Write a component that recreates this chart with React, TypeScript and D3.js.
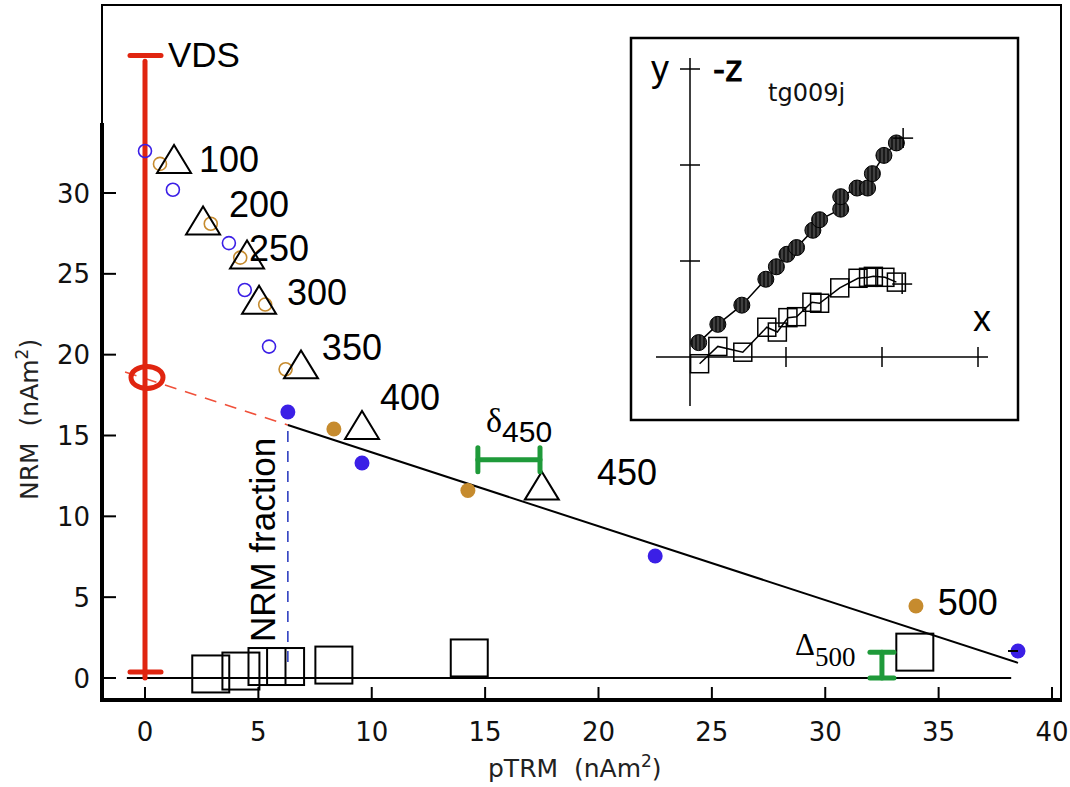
import React from "react";
import * as d3 from "d3";

// ---------- data ----------
const xTicks = [0, 5, 10, 15, 20, 25, 30, 35, 40];
const yTicks = [0, 5, 10, 15, 20, 25, 30];

// open circles: steps not used in the fit
const openBlue: [number, number][] = [
  [0, 32.6], [1.23, 30.2], [3.7, 26.9], [4.4, 24.0], [5.47, 20.5],
];
const openOrange: [number, number][] = [
  [0.66, 31.8], [2.9, 28.1], [4.2, 26.0], [5.3, 23.1], [6.2, 19.1],
];
// filled circles: steps used in the fit
const fitBlue: [number, number][] = [
  [6.3, 16.45], [9.57, 13.3], [22.5, 7.55], [38.5, 1.67],
];
const fitOrange: [number, number][] = [
  [8.33, 15.4], [14.24, 11.6], [34.0, 4.45],
];
// pTRM checks (triangles)
const checks: [number, number][] = [
  [1.28, 32.1], [2.56, 28.3], [4.5, 26.2], [5.03, 23.4], [6.88, 19.4], [9.57, 15.65], [17.5, 11.9],
];
// pTRM tail checks (squares)
const tailChecks: [number, number][] = [
  [2.9, 0.25], [4.23, 0.43], [5.38, 0.71], [6.2, 0.71], [8.33, 0.8], [14.3, 1.24], [33.95, 1.6],
];
// temperature labels: [text, x, y]
const stepLabels: [string, number, number][] = [
  ["100", 2.38, 31.29], ["200", 3.7, 28.51], ["250", 4.59, 25.79], ["300", 6.26, 23.07],
  ["350", 7.8, 19.67], ["400", 10.36, 16.57], ["450", 19.93, 11.93], ["500", 34.96, 3.89],
];
// best-fit line
const fitIntercept = 18.53;
const fitSlope = -0.457;
const fitStart = 6.3;
const fitEnd = 38.5;
const dashStart = -0.88;
const vds = 38.5;
const baseLine = [-0.8, 38.2];
const delta450 = { x0: 14.68, x1: 17.42, y: 13.5 };
const Delta500 = { x: 32.5, y0: 0, y1: 1.6 };

// inset Zijderveld data (tick units)
const zijH: [number, number][] = [
  [0.09, 0.15], [0.29, 0.34], [0.54, 0.54], [0.79, 0.81], [0.9, 0.94], [1.01, 1.07],
  [1.11, 1.14], [1.28, 1.32], [1.35, 1.43], [1.57, 1.54], [1.57, 1.67], [1.74, 1.76],
  [1.85, 1.76], [1.9, 1.91], [2.02, 2.1], [2.15, 2.23],
];
const zijV: [number, number][] = [
  [0.1, -0.07], [0.29, 0.11], [0.55, 0.05], [0.8, 0.31], [0.91, 0.26], [1.02, 0.41],
  [1.11, 0.42], [1.27, 0.57], [1.35, 0.56], [1.56, 0.72], [1.75, 0.82], [1.86, 0.83],
  [1.91, 0.84], [2.03, 0.83], [2.15, 0.78],
];
const zijEndH: [number, number] = [2.22, 2.28];
const zijEndV: [number, number] = [2.21, 0.76];
const insetTicks = [1, 2, 3];

// ---------- styles ----------
const BLUE = "#3b1fe6";
const ORANGE = "#c68b2e";
const RED = "#e02510";
const GREEN = "#1f9a3a";
const SANS = "DejaVu Sans, sans-serif";
const LAB = "Liberation Sans, Arial, sans-serif";
const SERIF = "Liberation Serif, Times New Roman, serif";

export default function App() {
  const x = d3.scaleLinear().domain([0, 40]).range([145, 1052]);
  const y = d3.scaleLinear().domain([0, 30]).range([678, 193]);
  const xi = d3.scaleLinear().domain([0, 3]).range([690, 978]);
  const yi = d3.scaleLinear().domain([0, 3]).range([357, 69]);

  const fy = (v: number) => fitIntercept + fitSlope * v;
  const lineI = d3.line<[number, number]>().x((d) => xi(d[0])).y((d) => yi(d[1]));

  const tri = (cx: number, cy: number) => {
    const w = 17, h = 14;
    return `M${cx - w},${cy + h}L${cx},${cy - h}L${cx + w},${cy + h}Z`;
  };

  return (
    <svg
      width={1070}
      height={787}
      style={{ position: "absolute", left: 0, top: 0, background: "#fff" }}
    >
      <defs>
        <pattern id="hatch" width="4" height="4" patternUnits="userSpaceOnUse">
          <rect width="4" height="4" fill="#1a1a1a" />
          <line x1="2" y1="0" x2="2" y2="4" stroke="#666" strokeWidth="1" />
        </pattern>
      </defs>

      {/* frame */}
      <rect x={102} y={5} width={959} height={695} fill="none" stroke="#000" strokeWidth={2} />
      <line x1={102} y1={123} x2={102} y2={701} stroke="#000" strokeWidth={4} />
      <line x1={100} y1={700} x2={1062} y2={700} stroke="#000" strokeWidth={4} />

      {/* ticks */}
      {xTicks.map((t) => (
        <g key={"xt" + t}>
          <line x1={x(t)} x2={x(t)} y1={700} y2={687} stroke="#000" strokeWidth={2} />
          <text x={x(t)} y={741} textAnchor="middle" fontFamily={SANS} fontSize={26} fill="#111">
            {t}
          </text>
        </g>
      ))}
      {yTicks.map((t) => (
        <g key={"yt" + t}>
          <line x1={102} x2={116} y1={y(t)} y2={y(t)} stroke="#000" strokeWidth={2} />
          <text x={90} y={y(t) + 9.5} textAnchor="end" fontFamily={SANS} fontSize={26} fill="#111">
            {t}
          </text>
        </g>
      ))}

      {/* axis titles */}
      <text x={488} y={777} fontFamily={SANS} fontSize={25} fill="#222" style={{ whiteSpace: "pre" }}>
        {"pTRM  (nAm"}
        <tspan fontSize={17} dy={-10}>2</tspan>
        <tspan dy={10}>)</tspan>
      </text>
      <text
        x={38}
        y={500}
        transform="rotate(-90,38,500)"
        fontFamily={SANS}
        fontSize={25}
        fill="#222"
        style={{ whiteSpace: "pre" }}
      >
        {"NRM  (nAm"}
        <tspan fontSize={17} dy={-10}>2</tspan>
        <tspan dy={10}>)</tspan>
      </text>

      {/* baseline y=0 */}
      <line x1={x(baseLine[0])} x2={x(baseLine[1])} y1={y(0)} y2={y(0)} stroke="#000" strokeWidth={2} />

      {/* dashed extrapolation */}
      <line
        x1={x(dashStart)} y1={y(fy(dashStart))} x2={x(fitStart)} y2={y(fy(fitStart))}
        stroke="#f0503a" strokeWidth={1.6} strokeDasharray="12,9"
      />
      {/* NRM fraction vertical */}
      <line
        x1={x(fitStart)} x2={x(fitStart)} y1={y(fy(fitStart)) + 6} y2={y(0.6)}
        stroke="#3040c0" strokeWidth={1.6} strokeDasharray="11,9"
      />
      {/* fit line */}
      <line
        x1={x(fitStart)} y1={y(fy(fitStart))} x2={x(fitEnd)} y2={y(fy(fitEnd))}
        stroke="#000" strokeWidth={2}
      />

      {/* VDS bar */}
      <line x1={x(0)} x2={x(0)} y1={y(0)} y2={y(vds - 0.35)} stroke={RED} strokeWidth={5} strokeLinecap="round" />
      <line x1={x(0) - 15} x2={x(0) + 16} y1={y(vds)} y2={y(vds)} stroke={RED} strokeWidth={5} strokeLinecap="round" />
      <line x1={x(0) - 15} x2={x(0) + 16} y1={y(0.37)} y2={y(0.37)} stroke={RED} strokeWidth={5} strokeLinecap="round" />
      <ellipse cx={x(0) + 2} cy={y(fitIntercept) - 1} rx={16} ry={11} fill="none" stroke={RED} strokeWidth={5} />
      <text x={168} y={67} fontFamily={LAB} fontSize={35} fill="#000">VDS</text>

      {/* tail check squares */}
      {tailChecks.map((d, i) => (
        <rect key={"sq" + i} x={x(d[0]) - 18.5} y={y(d[1]) - 18.5} width={37} height={37}
          fill="none" stroke="#000" strokeWidth={2} />
      ))}

      {/* NRM fraction label */}
      <text x={275} y={540} transform="rotate(-90,275,540)" textAnchor="middle"
        fontFamily={LAB} fontSize={35} fill="#000">NRM fraction</text>

      {/* open circles */}
      {openBlue.map((d, i) => (
        <circle key={"ob" + i} cx={x(d[0])} cy={y(d[1])} r={6.5} fill="none" stroke={BLUE} strokeWidth={1.6} />
      ))}
      {openOrange.map((d, i) => (
        <circle key={"oo" + i} cx={x(d[0])} cy={y(d[1])} r={6.5} fill="none" stroke={ORANGE} strokeWidth={1.6} />
      ))}
      {/* filled circles */}
      {fitBlue.map((d, i) => (
        <circle key={"fb" + i} cx={x(d[0])} cy={y(d[1])} r={7.5} fill={BLUE} />
      ))}
      {fitOrange.map((d, i) => (
        <circle key={"fo" + i} cx={x(d[0])} cy={y(d[1])} r={7.5} fill={ORANGE} />
      ))}
      <line x1={x(fitBlue[3][0]) - 10} x2={x(fitBlue[3][0])} y1={y(fitBlue[3][1])} y2={y(fitBlue[3][1])}
        stroke="#000" strokeWidth={2} />

      {/* triangles */}
      {checks.map((d, i) => (
        <path key={"tr" + i} d={tri(x(d[0]), y(d[1]))} fill="none" stroke="#000" strokeWidth={2} />
      ))}

      {/* step labels */}
      {stepLabels.map((d) => (
        <text key={"lb" + d[0]} x={x(d[1])} y={y(d[2])} fontFamily={LAB} fontSize={36} fill="#000">
          {d[0]}
        </text>
      ))}

      {/* delta 450 */}
      <g stroke={GREEN} strokeWidth={5} strokeLinecap="round">
        <line x1={x(delta450.x0)} x2={x(delta450.x1)} y1={y(delta450.y)} y2={y(delta450.y)} />
        <line x1={x(delta450.x0)} x2={x(delta450.x0)} y1={y(delta450.y) - 12} y2={y(delta450.y) + 12} />
        <line x1={x(delta450.x1)} x2={x(delta450.x1)} y1={y(delta450.y) - 12} y2={y(delta450.y) + 12} />
      </g>
      <text x={486} y={432} fontFamily={SERIF} fontSize={34} fill="#000">
        δ
        <tspan fontFamily={LAB} fontSize={30} dy={10}>450</tspan>
      </text>

      {/* Delta 500 */}
      <g stroke={GREEN} strokeWidth={5} strokeLinecap="round">
        <line x1={x(Delta500.x)} x2={x(Delta500.x)} y1={y(Delta500.y0)} y2={y(Delta500.y1)} />
        <line x1={x(Delta500.x) - 12} x2={x(Delta500.x) + 12} y1={y(Delta500.y0)} y2={y(Delta500.y0)} />
        <line x1={x(Delta500.x) - 12} x2={x(Delta500.x) + 12} y1={y(Delta500.y1)} y2={y(Delta500.y1)} />
      </g>
      <text x={795} y={655} fontFamily={SERIF} fontSize={31} fill="#000">
        Δ
        <tspan fontSize={27} dy={11}>500</tspan>
      </text>

      {/* ---------- inset ---------- */}
      <rect x={631} y={38} width={387} height={382} fill="#fff" stroke="#000" strokeWidth={2.5} />
      <line x1={xi(0)} x2={xi(0)} y1={58} y2={406} stroke="#000" strokeWidth={1.5} />
      <line x1={656} x2={988} y1={yi(0)} y2={yi(0)} stroke="#000" strokeWidth={1.5} />
      {insetTicks.map((t) => (
        <g key={"it" + t}>
          <line x1={xi(t)} x2={xi(t)} y1={yi(0) - 10} y2={yi(0) + 10} stroke="#000" strokeWidth={1.5} />
          <line x1={xi(0) - 10} x2={xi(0) + 10} y1={yi(t)} y2={yi(t)} stroke="#000" strokeWidth={1.5} />
        </g>
      ))}
      <path d={lineI(zijH) || ""} fill="none" stroke="#000" strokeWidth={1.5} />
      <path d={lineI(zijV) || ""} fill="none" stroke="#000" strokeWidth={1.5} />
      {zijV.map((d, i) => (
        <rect key={"zv" + i} x={xi(d[0]) - 9} y={yi(d[1]) - 9} width={18} height={18}
          fill="none" stroke="#000" strokeWidth={1.5} />
      ))}
      {zijH.map((d, i) => (
        <circle key={"zh" + i} cx={xi(d[0])} cy={yi(d[1])} r={8} fill="url(#hatch)" stroke="#000" strokeWidth={1} />
      ))}
      {[zijEndH, zijEndV].map((d, i) => (
        <g key={"ze" + i} stroke="#000" strokeWidth={1.5}>
          <line x1={xi(d[0]) - 10} x2={xi(d[0]) + 10} y1={yi(d[1])} y2={yi(d[1])} />
          <line x1={xi(d[0])} x2={xi(d[0])} y1={yi(d[1]) - 10} y2={yi(d[1]) + 10} />
        </g>
      ))}
      <text x={651} y={81} fontFamily={LAB} fontSize={36} fill="#000">y</text>
      <text x={713} y={81} fontFamily={LAB} fontSize={36} fill="#000" stroke="#000" strokeWidth={0.8}>-z</text>
      <text x={768} y={101} fontFamily={SANS} fontSize={24} fill="#111">tg009j</text>
      <text x={973} y={331} fontFamily={LAB} fontSize={36} fill="#000">x</text>
    </svg>
  );
}
